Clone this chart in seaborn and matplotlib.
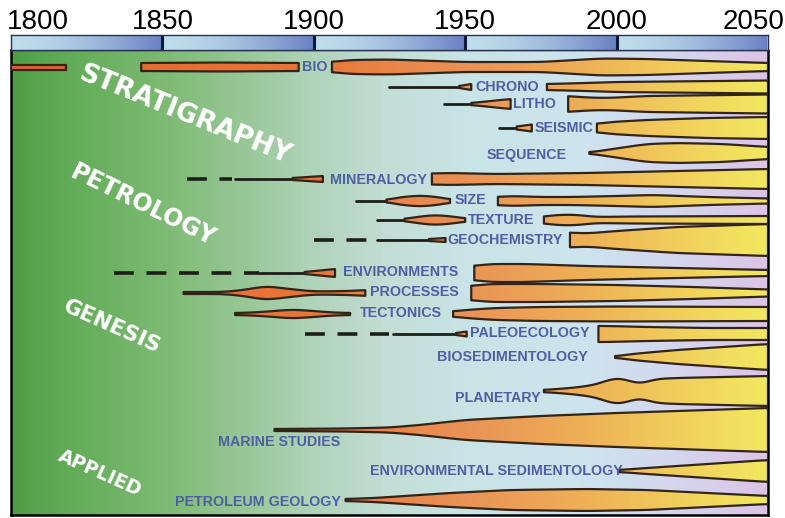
import numpy as np
import pandas as pd
import matplotlib
matplotlib.use("Agg")
import matplotlib.pyplot as plt
from matplotlib.colors import LinearSegmentedColormap
from matplotlib.patches import Polygon
from matplotlib.transforms import ScaledTranslation
import seaborn as sns

# ---------------- data ----------------
tick_years = [1800, 1850, 1900, 1950, 2000, 2050]

topics = ["BIO", "CHRONO", "LITHO", "SEISMIC", "SEQUENCE", "MINERALOGY", "SIZE",
          "TEXTURE", "GEOCHEMISTRY", "ENVIRONMENTS", "PROCESSES", "TECTONICS",
          "PALEOECOLOGY", "BIOSEDIMENTOLOGY", "PLANETARY", "MARINE STUDIES",
          "ENVIRONMENTAL SEDIMENTOLOGY", "PETROLEUM GEOLOGY"]
row_center = [67, 87, 104, 128, 153, 179, 201, 220, 240, 273, 293, 314, 334,
              357, 391, 430, 471, 500]

groups = ["STRATIGRAPHY", "PETROLOGY", "GENESIS", "APPLIED"]

# spindle segments: (years, half-widths)
BIO = [([1800, 1818], [2.5, 2.5]),
       ([1843, 1870, 1895], [4, 4.5, 4]),
       ([1906, 1912, 1925, 1950, 1975, 1995, 2010, 2030, 2050], [5, 7, 7.5, 5, 5, 8.5, 8, 6, 4])]
CHRONO = [([1948, 1952], [1, 3]),
          ([1977, 1990, 2000, 2050], [3, 4, 5, 6.5])]
LITHO = [([1952, 1965], [1, 5]),
         ([1984, 1990, 1997, 2010, 2050], [8, 6.5, 6, 8, 9.5])]
SEISMIC = [([1967, 1972], [1.5, 3.5]),
           ([1993.5, 1998, 2010, 2030, 2050], [4, 6, 8, 10, 11])]
SEQUENCE = [([1991, 2001, 2010, 2020, 2035, 2050], [0.5, 5, 9, 10, 9, 6])]
MINERALOGY = [([1893, 1903], [1, 3]),
              ([1939, 1945, 1960, 1990, 2020, 2050], [5.5, 6, 5, 6, 8, 10])]
SIZE = [([1924, 1929, 1935, 1941, 1945], [1, 4, 5.5, 4, 1.5]),
        ([1960.8, 1965, 1975, 1985, 2000, 2012, 2030, 2050], [4, 5, 4, 4, 5, 6, 4, 2.5])]
TEXTURE = [([1930, 1935, 1940, 1946, 1950], [1, 3.5, 5, 3.5, 1.5]),
           ([1976, 1979, 1986, 1993, 2005, 2050], [3, 5, 5.5, 3, 3.5, 4])]
GEOCHEMISTRY = [([1938, 1943.5], [1, 2]),
                ([1984.6, 1990, 2000, 2020, 2050], [7.5, 6.5, 9, 13, 16])]
ENVIRONMENTS = [([1897, 1907], [1, 4]),
                ([1953, 1958, 1970, 1990, 2020, 2050], [7, 9, 9, 7, 5, 3])]
PROCESSES = [([1857, 1870, 1877, 1884, 1892, 1900, 1912, 1917], [1, 1, 3, 7, 4, 1.5, 2, 3]),
             ([1952, 1958, 1975, 2000, 2025, 2050], [7, 9, 9, 8, 6, 3.5])]
TECTONICS = [([1874, 1880, 1887, 1893, 1900, 1906, 1912], [1, 1.5, 3, 4.5, 3, 1.5, 1]),
             ([1946, 1950, 1960, 1975, 2000, 2050], [2.5, 4, 6, 7, 7.5, 7])]
PALEOECOLOGY = [([1947, 1950.5], [1, 2.5]),
                ([1994, 1997, 2010, 2030, 2050], [8, 8, 7, 6, 6])]
BIOSEDIMENTOLOGY = [([1999.5, 2005, 2020, 2035, 2050], [0.5, 3, 7, 10, 13])]
PLANETARY = [([1976, 1985, 1993, 1998, 2001, 2005, 2008, 2012, 2020, 2050],
              [1, 3, 6, 12, 14, 9, 6, 12, 13, 15])]
MARINE = [([1887, 1910, 1925, 1935, 1950, 1975, 2000, 2050], [1, 1.5, 2.5, 5, 10, 14, 17, 22])]
ENVSED = [([2001, 2010, 2030, 2050], [1, 3, 7, 11])]
PETROLEUM = [([1910.5, 1920, 1930, 1945, 1965, 1990, 2010, 2030, 2050], [1, 2, 4, 7, 10, 11, 10, 7, 4])]

spindles = [BIO, CHRONO, LITHO, SEISMIC, SEQUENCE, MINERALOGY, SIZE, TEXTURE,
            GEOCHEMISTRY, ENVIRONMENTS, PROCESSES, TECTONICS, PALEOECOLOGY,
            BIOSEDIMENTOLOGY, PLANETARY, MARINE, ENVSED, PETROLEUM]

# thin solid lead-in lines and dashed (uncertain) precursors: (start, end)
solid_lines = [[], [(1925, 1949)], [(1943, 1953)], [(1961, 1968)], [], [(1874, 1894)],
               [(1914, 1925)], [(1921, 1931)], [(1921, 1939)], [(1882, 1898)], [], [],
               [(1926, 1948)], [], [], [], [], []]
dashed_lines = [[], [], [], [], [], [(1858, 1873)], [], [], [(1900, 1920)],
                [(1834, 1882)], [], [], [(1897, 1925)], [], [], [], [], []]

# ---------------- layout ----------------
label_year = [1896.1, 1953.2, 1965.8, 1973.0, 1957.2, 1905.3, 1946.6, 1950.9, 1944.0,
              1909.6, 1918.6, 1915.3, 1951.6, 1940.7, 1946.6, 1868.4, 1918.6, 1854.2]
label_dy = [0, 0, 0, 0, 2, 1, -1, 0, 0, -1, -1, -1, -1, 0, 7, 12, 0, 2]
group_pos = [(1857.5, 115), (1843.6, 205), (1833.4, 327), (1829.4, 473)]
group_rot = [-22, -26, -24, -24]
group_size = [19, 17, 15.5, 13.5]

sns.set_theme(style="white")
plt.rcParams['font.family'] = ['Liberation Sans', 'DejaVu Sans']

W, H = 785, 518
fig = plt.figure(figsize=(W / 100, H / 100), dpi=100)
fig.patch.set_facecolor("white")
ax = fig.add_axes([11 / W, 3 / H, 757 / W, 465 / H])
axb = fig.add_axes([11 / W, 468 / H, 757 / W, 15 / H])

X0, X1, YB, YT = 1800, 2050, 515, 50
ax.set_xlim(X0, X1)
ax.set_ylim(YB, YT)


def rgb(*c):
    return tuple(v / 255 for v in c)


# background gradient
bg_stops = [(1800, (78, 158, 68)), (1815, (95, 170, 85)), (1850, (125, 186, 115)),
            (1880, (155, 201, 155)), (1900, (176, 211, 186)), (1925, (195, 222, 214)),
            (1950, (200, 228, 230)), (1990, (205, 228, 238)), (2020, (212, 214, 238)),
            (2050, (220, 196, 230))]
bg_cmap = LinearSegmentedColormap.from_list(
    "bg", [((y - X0) / (X1 - X0), rgb(*c)) for y, c in bg_stops])
grad = np.linspace(0, 1, 600)[None, :]
ax.imshow(grad, cmap=bg_cmap, extent=[X0, X1, YB, YT], aspect="auto",
          interpolation="bilinear", zorder=0)

# spindle fill gradient
sp_stops = [(1800, (226, 100, 45)), (1900, (233, 118, 58)), (1950, (233, 146, 86)),
            (1990, (238, 176, 86)), (2020, (241, 206, 92)), (2050, (242, 232, 96))]
sp_cmap = LinearSegmentedColormap.from_list(
    "sp", [((y - X0) / (X1 - X0), rgb(*c)) for y, c in sp_stops])

edge = rgb(50, 36, 25)


def smooth_profile(years, widths):
    xs = np.linspace(years[0], years[-1], 400)
    ws = np.interp(xs, years, widths)
    span = years[-1] - years[0]
    sig_years = min(2.5, span / 10.0)
    sig = max(1, int(round(sig_years / span * 400)))
    k = np.arange(-3 * sig, 3 * sig + 1)
    kern = np.exp(-0.5 * (k / sig) ** 2)
    kern /= kern.sum()
    padded = np.pad(ws, 3 * sig, mode="edge")
    ws = np.convolve(padded, kern, mode="valid")
    return xs, ws


for yc, segs, sl, dl in zip(row_center, spindles, solid_lines, dashed_lines):
    for s, e in dl:
        sns.lineplot(x=[s, e], y=[yc, yc], ax=ax, color=rgb(30, 30, 25), lw=2.6,
                     linestyle=(0, (5.5, 3.5)), zorder=3)
    for s, e in sl:
        sns.lineplot(x=[s, e], y=[yc, yc], ax=ax, color=rgb(30, 30, 25), lw=2.0,
                     zorder=3)
    for years, widths in segs:
        xs, ws = smooth_profile(years, widths)
        verts = np.concatenate([np.column_stack([xs, yc - ws]),
                                np.column_stack([xs[::-1], yc + ws[::-1]])])
        poly = Polygon(verts, closed=True, facecolor="none", edgecolor=edge,
                       lw=1.6, zorder=5, joinstyle="round")
        ax.add_patch(poly)
        im = ax.imshow(grad, cmap=sp_cmap, extent=[X0, X1, YB, YT], aspect="auto",
                       interpolation="bilinear", zorder=4)
        im.set_clip_path(poly)

# topic labels
for name, lx, yc, dy in zip(topics, label_year, row_center, label_dy):
    ax.text(lx, yc + dy, name, fontsize=10.3, fontweight="bold", color=rgb(78, 95, 165),
            family=["Liberation Sans", "DejaVu Sans"],
            ha="left", va="center", zorder=6)

# group labels
for g, (gx, gy), r, fs in zip(groups, group_pos, group_rot, group_size):
    ax.text(gx, gy, g, fontsize=fs, fontweight="bold", color="white",
            family="DejaVu Sans", rotation=r, rotation_mode="anchor",
            ha="center", va="center", zorder=2)

ax.set_xticks([])
ax.set_yticks([])
ax.grid(False)
for side in ["left", "right", "bottom"]:
    ax.spines[side].set_visible(True)
    ax.spines[side].set_color("black")
    ax.spines[side].set_linewidth(1.8)
ax.spines["top"].set_visible(True)
ax.spines["top"].set_color(rgb(40, 50, 80))
ax.spines["top"].set_linewidth(1.0)

# top time bar
light = np.array(rgb(190, 222, 236))
dark = np.array(rgb(105, 128, 196))
yrs = np.linspace(X0, X1, 1000)
t = ((yrs - X0) % 50) / 50.0
t = t ** 1.6
bar = (light[None, :] * (1 - t[:, None]) + dark[None, :] * t[:, None])[None, :, :]
axb.imshow(bar, extent=[X0, X1, 0, 1], aspect="auto", interpolation="bilinear")
axb.set_xlim(X0, X1)
axb.set_ylim(0, 1)
for ty in tick_years[1:-1]:
    axb.axvline(ty, color=rgb(15, 25, 60), lw=2.2)
axb.set_yticks([])
axb.xaxis.tick_top()
axb.set_xticks(tick_years)
axb.set_xticklabels([str(v) for v in tick_years], fontsize=20, color="black")
axb.tick_params(axis="x", length=0, pad=0, top=True, bottom=False)
labs = axb.get_xticklabels()
labs[0].set_horizontalalignment("left")
labs[0].set_transform(labs[0].get_transform() + ScaledTranslation(-4 / 100, 0, fig.dpi_scale_trans))
labs[-1].set_horizontalalignment("right")
labs[-1].set_transform(labs[-1].get_transform() + ScaledTranslation(17 / 100, 0, fig.dpi_scale_trans))
for side in axb.spines:
    axb.spines[side].set_visible(True)
    axb.spines[side].set_color(rgb(40, 50, 80))
    axb.spines[side].set_linewidth(1.0)

fig.savefig("out.png", dpi=100)
